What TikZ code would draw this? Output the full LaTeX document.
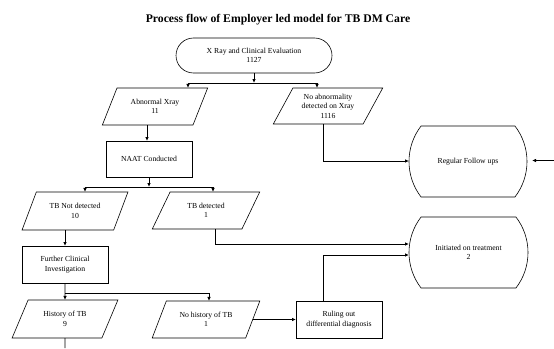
\documentclass[tikz,border=0pt]{standalone}
\usepackage{fontspec}
\setmainfont{Liberation Serif}
\usetikzlibrary{shapes.geometric,shapes.misc,arrows.meta}
\tikzset{
  base/.style={draw=black, line width=0.6pt, align=center, inner sep=1pt, outer sep=0pt,
    font=\fontsize{7.7}{9.5}\selectfont},
  stadium/.style={base, rounded rectangle, rounded rectangle arc length=180},
  endbox/.style={base, rounded rectangle, rounded rectangle arc length=75,
    minimum width=120pt, minimum height=71pt},
  para/.style={base, trapezium, trapezium left angle=60, trapezium right angle=120,
    trapezium stretches=true, minimum width=106pt, minimum height=37pt},
  procbox/.style={base, rectangle, minimum width=86pt, minimum height=37pt},
  conn/.style={line width=0.9pt, draw=black},
  arr/.style={conn, -{Latex[length=4pt,width=3.5pt]}}
}
\begin{document}
\begin{tikzpicture}[x=1pt,y=-1pt]
\useasboundingbox (0,0) rectangle (554,348);
\node[font=\bfseries\fontsize{11.7}{13}\selectfont] (title) at (278,20) {Process flow of Employer led model for TB DM Care};

\node[stadium, minimum width=158pt, minimum height=35pt] (start) at (254,55.5) {X Ray and Clinical Evaluation\\1127};
\node[para] (abn) at (155,106.5) {Abnormal Xray\\11};
\node[para, minimum width=110pt, minimum height=36pt] (noab) at (328,106) {No abnormality\\detected on Xray\\1116};
\node[procbox, minimum height=36pt] (naat) at (149,159) {NAAT Conducted};
\node[para, minimum height=38pt] (tbnd) at (75,211) {TB Not detected\\10};
\node[para, minimum width=108pt] (tbd) at (206,210.5) {TB detected\\1};
\node[procbox] (further) at (65,264.5) {Further Clinical\\Investigation};
\node[para, minimum height=38pt] (hist) at (65,319) {History of TB\\9};
\node[para, minimum width=108pt] (nohist) at (206,319.5) {No history of TB\\1};
\node[procbox] (ruling) at (339,319.5) {Ruling out\\differential diagnosis};
\node[endbox] (regular) at (468,161.5) {Regular Follow ups};
\node[endbox, minimum width=121pt] (init) at (468.5,252.5) {Initiated on treatment\\2};

% top split
\coordinate (j1) at (254,83);
\coordinate (j1l) at (188,83);
\coordinate (j1r) at (317,83);
\draw[arr] (start.south) -- (j1);
\draw[conn] (j1l) -- (j1r);
\draw[arr] (j1l) -- (j1l |- abn.north);
\draw[arr] (j1r) -- (j1r |- noab.north);

% abnormal -> NAAT
\coordinate (a1) at (147,125);
\draw[arr] (a1 |- abn.south) -- (a1 |- naat.north);

% NAAT split
\coordinate (j2) at (149,187);
\coordinate (j2l) at (85,187);
\coordinate (j2r) at (213,187);
\draw[arr] (naat.south) -- (j2);
\draw[conn] (j2l) -- (j2r);
\draw[arr] (j2l) -- (j2l |- tbnd.north);
\draw[arr] (j2r) -- (j2r |- tbd.north);

% TB not detected -> further
\coordinate (b1) at (65,230);
\draw[arr] (b1 |- tbnd.south) -- (b1 |- further.north);

% further split
\coordinate (j3) at (65,293);
\coordinate (j3r) at (209,293);
\draw[arr] (further.south) -- (hist.north);
\draw[conn] (j3) -- (j3r);
\draw[arr] (j3r) -- (j3r |- nohist.north);

% history down off page
\coordinate (hend) at (65,348);
\draw[conn] (hist.south) -- (hend);

% no history -> ruling
\draw[arr] (nohist.east) -- (ruling.west);

% ruling -> initiated
\coordinate (r1) at (323,255);
\draw[arr] (r1 |- ruling.north) -- (r1) -- (r1 -| init.west);

% TB detected -> initiated
\coordinate (t1) at (215,244);
\draw[arr] (t1 |- tbd.south) -- (t1) -- (t1 -| init.west);

% no abnormality -> regular
\coordinate (n1) at (323,161);
\draw[arr] (n1 |- noab.south) -- (n1) -- (n1 -| regular.west);

% incoming arrow from right
\coordinate (rin) at (554,160.5);
\draw[arr] (rin) -- ([xshift=5pt]regular.east |- rin);
\end{tikzpicture}
\end{document}
